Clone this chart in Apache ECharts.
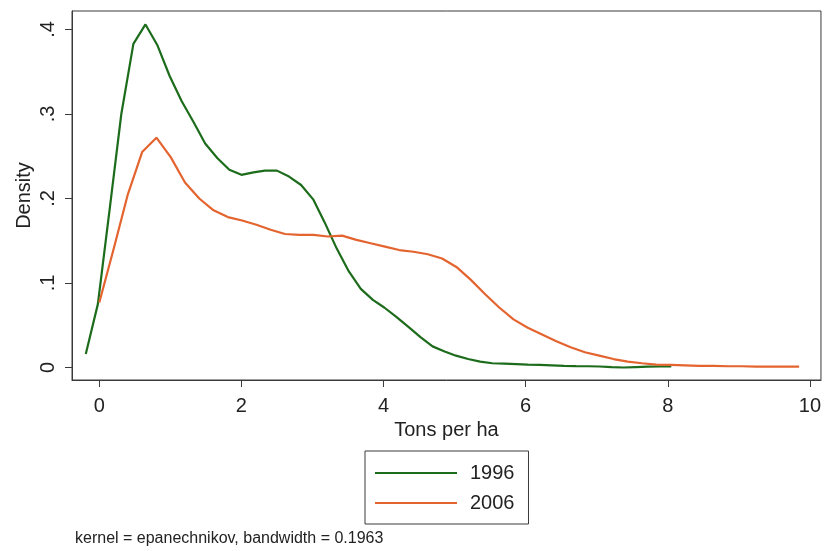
<!DOCTYPE html>
<html>
<head>
<meta charset="utf-8">
<script src="https://cdn.jsdelivr.net/npm/echarts@6/dist/echarts.min.js"></script>
<style>
  html, body { margin: 0; padding: 0; background: #fff; }
  #chart { width: 824px; height: 551px; }
</style>
</head>
<body>
<div id="chart"></div>
<script>
// Kernel density estimates of yield, evaluated on an even grid per year
const x1996 = [-0.19, -0.02, 0.15, 0.31, 0.48, 0.65, 0.82, 0.99, 1.16, 1.33,
  1.49, 1.66, 1.83, 2.00, 2.17, 2.33, 2.50, 2.67, 2.84, 3.01,
  3.17, 3.34, 3.51, 3.68, 3.85, 4.01, 4.18, 4.35, 4.52, 4.69,
  4.86, 5.02, 5.19, 5.36, 5.53, 5.70, 5.87, 6.03, 6.20, 6.37,
  6.54, 6.71, 6.88, 7.04, 7.21, 7.38, 7.55, 7.72, 7.89, 8.05];
const d1996 = [0.016, 0.075, 0.190, 0.300, 0.383, 0.406, 0.381, 0.345, 0.315, 0.290,
  0.265, 0.248, 0.234, 0.228, 0.231, 0.233, 0.233, 0.226, 0.216, 0.199,
  0.172, 0.141, 0.114, 0.093, 0.080, 0.071, 0.060, 0.048, 0.036, 0.025,
  0.019, 0.014, 0.010, 0.007, 0.005, 0.0045, 0.004, 0.0035, 0.003, 0.0025,
  0.002, 0.0017, 0.0015, 0.0012, 0.0005, 0.0, 0.0005, 0.001, 0.0012, 0.0012];

const x2006 = [0.000, 0.201, 0.402, 0.603, 0.804, 1.005, 1.206, 1.407, 1.608, 1.809,
  2.010, 2.211, 2.412, 2.613, 2.814, 3.015, 3.216, 3.417, 3.618, 3.819,
  4.020, 4.221, 4.422, 4.623, 4.824, 5.025, 5.226, 5.427, 5.628, 5.829,
  6.030, 6.231, 6.432, 6.633, 6.834, 7.035, 7.236, 7.437, 7.638, 7.839,
  8.040, 8.241, 8.442, 8.643, 8.844, 9.045, 9.246, 9.447, 9.648, 9.849];
const d2006 = [0.077, 0.140, 0.205, 0.255, 0.272, 0.249, 0.219, 0.200, 0.186, 0.178,
  0.174, 0.169, 0.163, 0.158, 0.157, 0.157, 0.155, 0.156, 0.151, 0.147,
  0.143, 0.139, 0.137, 0.134, 0.129, 0.119, 0.104, 0.087, 0.071, 0.057,
  0.047, 0.039, 0.031, 0.024, 0.018, 0.014, 0.010, 0.007, 0.005, 0.0035,
  0.003, 0.0025, 0.002, 0.002, 0.0015, 0.0015, 0.001, 0.001, 0.001, 0.001];

const xTicks = [0, 2, 4, 6, 8, 10];
const yTicks = [0, 0.1, 0.2, 0.3, 0.4];
const yTickLabels = ['0', '.1', '.2', '.3', '.4'];
const seriesNames = ['1996', '2006'];
const noteText = 'kernel = epanechnikov, bandwidth = 0.1963';

const FONT = 'Liberation Sans, Arial, sans-serif';
const INK = '#222';
const FRAME = '#3a3a3a';
const GREEN = '#1c6c1c';
const ORANGE = '#e4642f';

const pairs = (xs, ys) => xs.map((x, i) => [x, ys[i]]);

const chart = echarts.init(document.getElementById('chart'), null, { renderer: 'canvas' });

chart.setOption({
  backgroundColor: '#fff',
  animation: false,
  grid: {
    left: 72, right: 2, top: 11, bottom: 171,
    show: true, borderColor: FRAME, borderWidth: 1, backgroundColor: '#fff'
  },
  xAxis: {
    type: 'value',
    min: -0.384, max: 10.156,
    name: 'Tons per ha',
    nameLocation: 'middle',
    nameGap: 39,
    nameTextStyle: { fontFamily: FONT, fontSize: 20, color: INK },
    axisLine: { show: true, onZero: false, lineStyle: { color: FRAME, width: 1 } },
    axisTick: { show: true, length: 7, customValues: xTicks, lineStyle: { color: FRAME } },
    axisLabel: { customValues: xTicks, fontFamily: FONT, fontSize: 20, color: INK, margin: 16 },
    splitLine: { show: false }
  },
  yAxis: {
    type: 'value',
    min: -0.0148, max: 0.4219,
    name: 'Density',
    nameLocation: 'middle',
    nameGap: 38,
    nameMoveOverlap: false,
    nameTextStyle: { fontFamily: FONT, fontSize: 20, color: INK },
    axisLine: { show: true, onZero: false, lineStyle: { color: FRAME, width: 1 } },
    axisTick: { show: true, length: 7, customValues: yTicks, lineStyle: { color: FRAME } },
    axisLabel: {
      customValues: yTicks, rotate: 90, fontFamily: FONT, fontSize: 20, color: INK, margin: 14,
      formatter: v => yTickLabels[yTicks.findIndex(t => Math.abs(t - v) < 1e-9)]
    },
    splitLine: { show: false }
  },
  legend: {
    orient: 'vertical',
    left: 365, top: 451,
    padding: [12, 14, 11, 10],
    itemGap: 10,
    itemWidth: 82, itemHeight: 2,
    icon: 'rect',
    borderColor: FRAME, borderWidth: 1,
    textStyle: { fontFamily: FONT, fontSize: 20, color: INK, padding: [0, 0, 0, 8] },
    data: seriesNames
  },
  graphic: [{
    type: 'text', left: 75, top: 531,
    style: { text: noteText, font: '16px ' + FONT, fill: INK }
  }],
  series: [
    {
      name: seriesNames[0], type: 'line', data: pairs(x1996, d1996),
      showSymbol: false, symbol: 'none', smooth: false,
      lineStyle: { color: GREEN, width: 2.2 }, itemStyle: { color: GREEN }
    },
    {
      name: seriesNames[1], type: 'line', data: pairs(x2006, d2006),
      showSymbol: false, symbol: 'none', smooth: false,
      lineStyle: { color: ORANGE, width: 2.2 }, itemStyle: { color: ORANGE }
    }
  ]
});
</script>
</body>
</html>
